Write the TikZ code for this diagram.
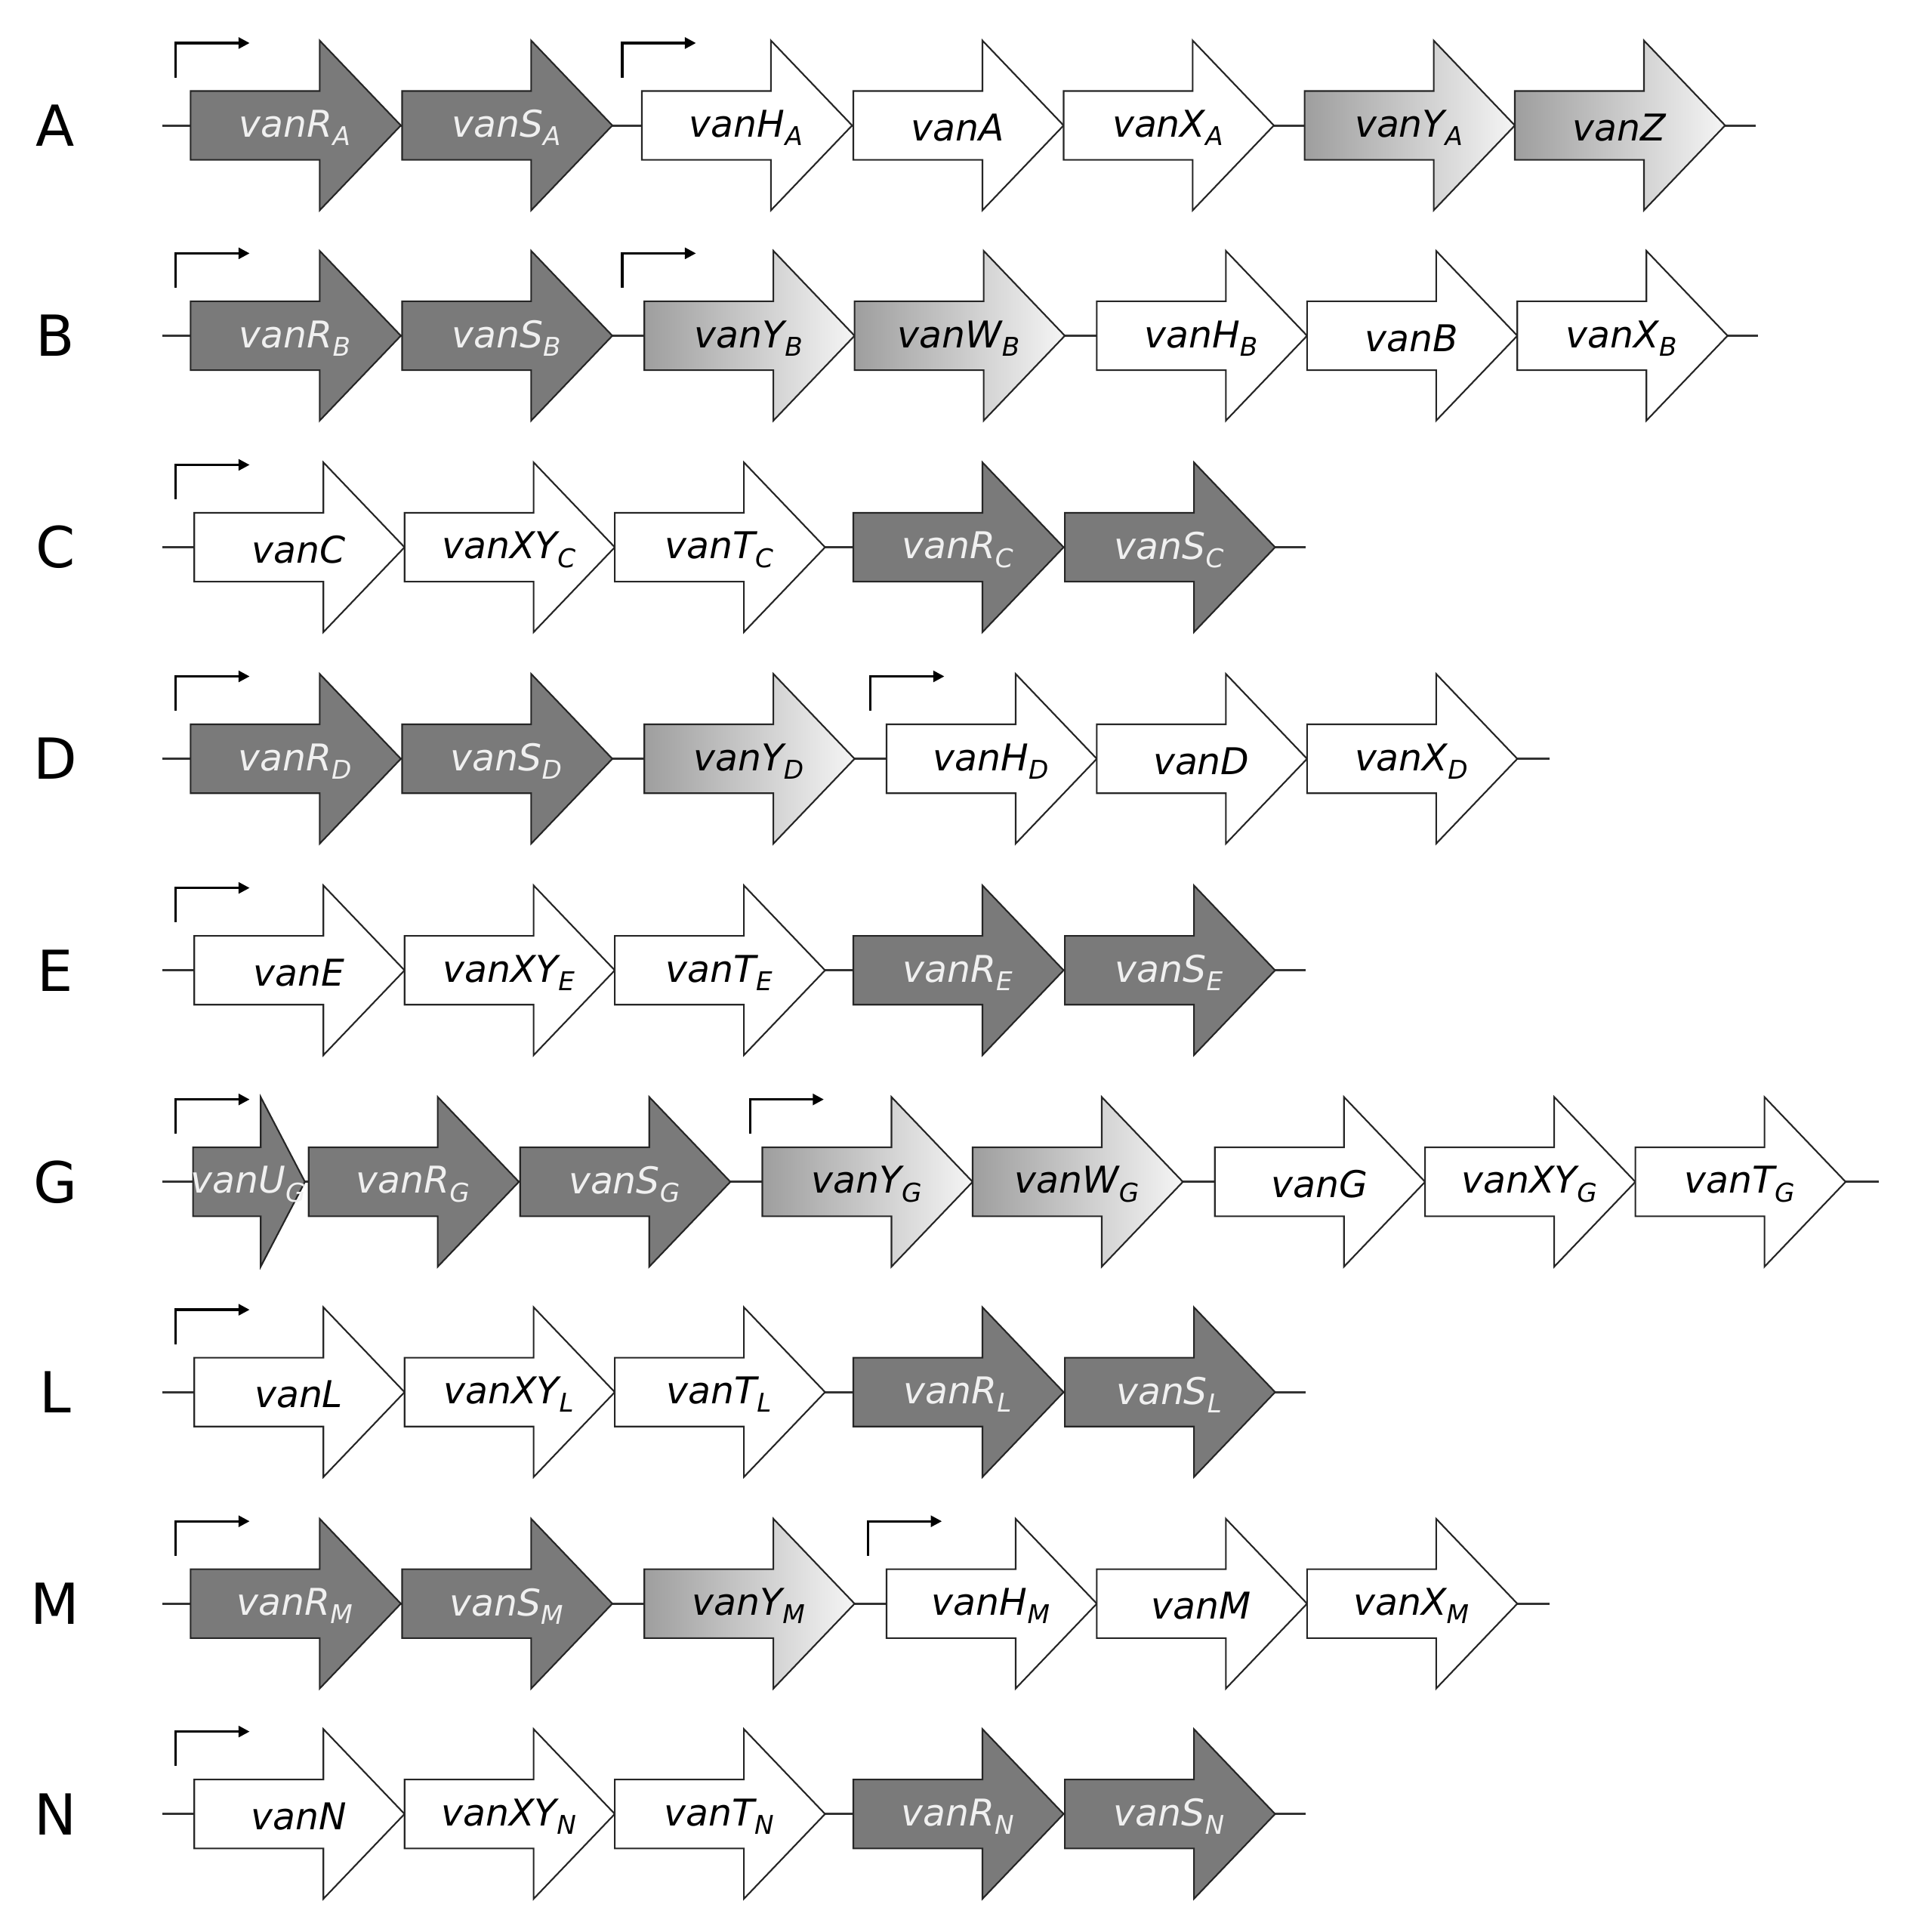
\documentclass[tikz,border=0pt]{standalone}
\usepackage{fontspec}
\setmainfont{DejaVu Sans}
\usetikzlibrary{arrows.meta}
\definecolor{dk}{HTML}{7A7A7A}
\tikzset{
 dark/.style={draw=black!85,line width=1.3pt,fill=dk},
 wht/.style={draw=black!85,line width=1.3pt,fill=white},
 grd/.style={draw=black!85,line width=1.3pt,left color=black!38,right color=black!4},
 bb/.style={draw=black!80,line width=1.8pt},
 prom/.style={line width=2pt,-{Triangle[length=9pt,width=9pt]}},
 lbl/.style={font=\fontsize{46}{46}\selectfont},
 gt/.style={font=\fontsize{30}{30}\selectfont\itshape,inner sep=0pt},
 DT/.style={text=black!6},
 WT/.style={text=black},
}
\newcommand\G[5]{%
 \draw[#3] (#1,#2) ++(0,-28) -- ++(105,0) -- ++(0,-41) -- ++(66,69) -- ++(-66,69) -- ++(0,-41) -- ++(-105,0) -- cycle;
 \node[gt,#5] at ({#1+85},{#2+2}) {#4};}
\newcommand\prm[2]{\draw[prom] (#1,{#2-39}) -- (#1,{#2-67}) -- ({#1+60},{#2-67});}
\newcommand\row[4]{\node[lbl] at (45,#1) {#2}; \draw[bb] (#3,#1) -- (#4,#1);}
\begin{document}
\begin{tikzpicture}[x=1pt,y=-1pt]
\useasboundingbox (0,0) rectangle (1550,1571);
% A
\row{102}{A}{132}{1428}
\G{155}{102}{dark}{vanR\textsubscript{A}}{DT}
\G{327}{102}{dark}{vanS\textsubscript{A}}{DT}
\G{522}{102}{wht}{vanH\textsubscript{A}}{WT}
\G{694}{102}{wht}{vanA}{WT}
\G{865}{102}{wht}{vanX\textsubscript{A}}{WT}
\G{1061}{102}{grd}{vanY\textsubscript{A}}{WT}
\G{1232}{102}{grd}{vanZ}{WT}
\prm{143}{102}\prm{506}{102}
% B
\row{273}{B}{132}{1430}
\G{155}{273}{dark}{vanR\textsubscript{B}}{DT}
\G{327}{273}{dark}{vanS\textsubscript{B}}{DT}
\G{524}{273}{grd}{vanY\textsubscript{B}}{WT}
\G{695}{273}{grd}{vanW\textsubscript{B}}{WT}
\G{892}{273}{wht}{vanH\textsubscript{B}}{WT}
\G{1063}{273}{wht}{vanB}{WT}
\G{1234}{273}{wht}{vanX\textsubscript{B}}{WT}
\prm{143}{273}\prm{506}{273}
% C E L N
\foreach \y/\l in {445/C,789/E,1132/L,1475/N}{
\row{\y}{\l}{132}{1062}
\G{158}{\y}{wht}{van\l}{WT}
\G{329}{\y}{wht}{vanXY\textsubscript{\l}}{WT}
\G{500}{\y}{wht}{vanT\textsubscript{\l}}{WT}
\G{694}{\y}{dark}{vanR\textsubscript{\l}}{DT}
\G{866}{\y}{dark}{vanS\textsubscript{\l}}{DT}
\prm{143}{\y}
}
% D M
\foreach \y/\l/\p in {617/D/708,1304/M/706}{
\row{\y}{\l}{132}{1260}
\G{155}{\y}{dark}{vanR\textsubscript{\l}}{DT}
\G{327}{\y}{dark}{vanS\textsubscript{\l}}{DT}
\G{524}{\y}{grd}{vanY\textsubscript{\l}}{WT}
\G{721}{\y}{wht}{vanH\textsubscript{\l}}{WT}
\G{892}{\y}{wht}{van\l}{WT}
\G{1063}{\y}{wht}{vanX\textsubscript{\l}}{WT}
\prm{143}{\y}\prm{\p}{\y}
}
% G
\row{961}{G}{132}{1528}
\draw[dark] (157,961) ++(0,-28) -- ++(55,0) -- ++(0,-41) -- ++(36,69) -- ++(-36,69) -- ++(0,-41) -- ++(-55,0) -- cycle;
\node[gt,DT] at (202,963) {vanU\textsubscript{G}};
\G{251}{961}{dark}{vanR\textsubscript{G}}{DT}
\G{423}{961}{dark}{vanS\textsubscript{G}}{DT}
\G{620}{961}{grd}{vanY\textsubscript{G}}{WT}
\G{791}{961}{grd}{vanW\textsubscript{G}}{WT}
\G{988}{961}{wht}{vanG}{WT}
\G{1159}{961}{wht}{vanXY\textsubscript{G}}{WT}
\G{1330}{961}{wht}{vanT\textsubscript{G}}{WT}
\prm{143}{961}\prm{610}{961}
\end{tikzpicture}
\end{document}
